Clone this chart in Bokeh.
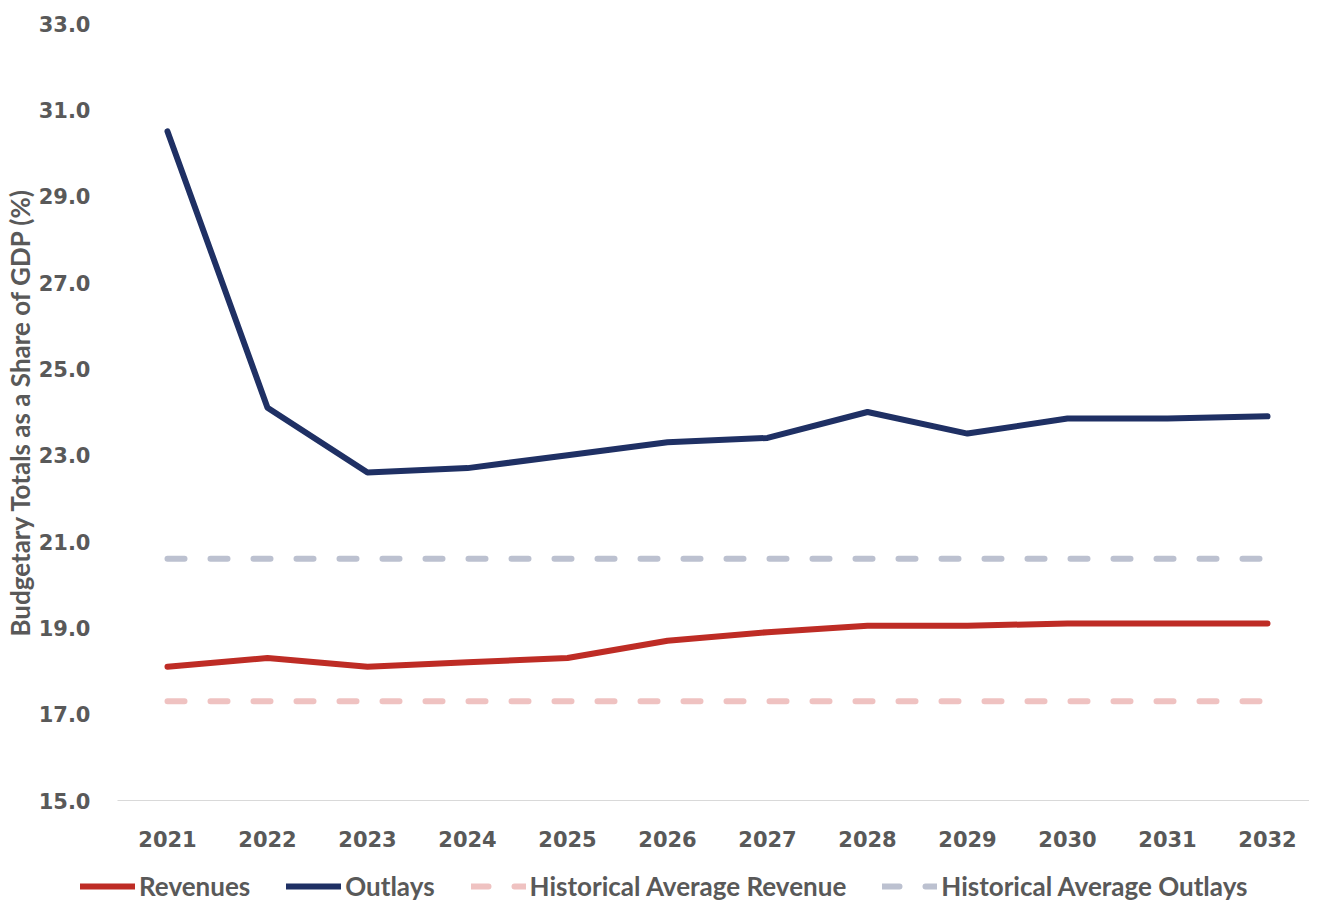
from bokeh.plotting import figure
from bokeh.models import Range1d, FixedTicker, Legend, LegendItem, NumeralTickFormatter
from bokeh.layouts import column, row
from bokeh.embed import file_html
from bokeh.resources import INLINE

years = [2021, 2022, 2023, 2024, 2025, 2026, 2027, 2028, 2029, 2030, 2031, 2032]
revenues = [18.1, 18.3, 18.1, 18.2, 18.3, 18.7, 18.9, 19.05, 19.05, 19.1, 19.1, 19.1]
outlays = [30.5, 24.1, 22.6, 22.7, 23.0, 23.3, 23.4, 24.0, 23.5, 23.85, 23.85, 23.9]
hist_avg_revenue = [17.3] * len(years)
hist_avg_outlays = [20.6] * len(years)
y_ticks = [15, 17, 19, 21, 23, 25, 27, 29, 31, 33]
series_labels = ["Revenues", "Outlays", "Historical Average Revenue", "Historical Average Outlays"]
series_values = [revenues, outlays, hist_avg_revenue, hist_avg_outlays]

styles = [
    dict(line_color="#BE2C25", line_width=6, line_cap="round", line_join="round"),
    dict(line_color="#1F3064", line_width=6, line_cap="round", line_join="round"),
    dict(line_color="#EFC2C1", line_width=6, line_cap="round", line_dash="17 26"),
    dict(line_color="#BCC1D0", line_width=6, line_cap="round", line_dash="17 26"),
]

p = figure(frame_width=1192, frame_height=777,
           x_range=Range1d(2020.5, 2032.42), y_range=Range1d(15, 33),
           output_backend="svg", toolbar_location=None,
           min_border_top=23, min_border_left=110, min_border_right=0, min_border_bottom=68)
p.outline_line_color = None
p.grid.grid_line_color = None
p.background_fill_color = "white"

for ys, st in zip(series_values, styles):
    p.line(years, ys, **st)

tick_font = "DejaVu Sans"
p.xaxis.ticker = FixedTicker(ticks=years)
p.xaxis.major_label_text_font = tick_font
p.xaxis.major_label_text_font_style = "bold"
p.xaxis.major_label_text_font_size = "21px"
p.xaxis.major_label_text_color = "#595959"
p.xaxis.major_tick_line_color = None
p.xaxis.minor_tick_line_color = None
p.xaxis.axis_line_color = "#D9D9D9"
p.xaxis.axis_line_width = 1
p.xaxis.major_label_standoff = 24

p.yaxis.ticker = FixedTicker(ticks=y_ticks)
p.yaxis.formatter = NumeralTickFormatter(format="0.0")
p.yaxis.major_label_text_font = tick_font
p.yaxis.major_label_text_font_style = "bold"
p.yaxis.major_label_text_font_size = "21px"
p.yaxis.major_label_text_color = "#595959"
p.yaxis.major_tick_line_color = None
p.yaxis.minor_tick_line_color = None
p.yaxis.axis_line_color = None
p.yaxis.major_label_standoff = 21
p.yaxis.axis_label = "Budgetary Totals as a Share of GDP (%)"
p.yaxis.axis_label_text_font = "Lato"
p.yaxis.axis_label_text_font_style = "bold"
p.yaxis.axis_label_text_font_size = "26px"
p.yaxis.axis_label_text_color = "#595959"
p.yaxis.axis_label_standoff = 0

# legend strip: same series, drawn outside the strip's visible range so only the legend shows
p2 = figure(width=1302, height=34, output_backend="svg", toolbar_location=None,
            x_axis_location=None, y_axis_location=None,
            x_range=Range1d(0, 1), y_range=Range1d(0, 1), min_border=0)
p2.outline_line_color = None
p2.grid.grid_line_color = None
items = []
for lab, ys, st in zip(series_labels, series_values, styles):
    r = p2.line(years, ys, **st)
    items.append(LegendItem(label=lab, renderers=[r]))
legend = Legend(items=items, orientation="horizontal", location=(80, 0),
    label_text_font="Lato", label_text_font_style="bold", label_text_font_size="26px",
    label_text_color="#595959",
    glyph_width=55, glyph_height=28, label_standoff=4, spacing=36,
    border_line_color=None, background_fill_alpha=0, padding=0, margin=0)
p2.add_layout(legend, "center")

layout = column(p, row(p2), spacing=0)
open("out.html", "w").write(file_html(layout, INLINE))
